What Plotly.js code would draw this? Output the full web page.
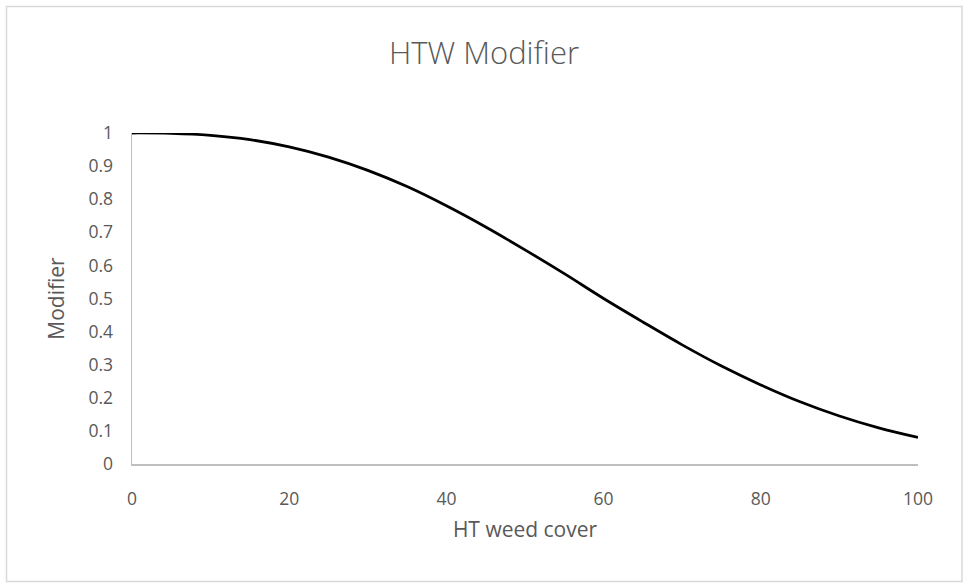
<!DOCTYPE html>
<html>
<head>
<meta charset="utf-8">
<script src="https://cdn.plot.ly/plotly-3.0.1.min.js"></script>
<style>
  html, body { margin: 0; padding: 0; background: #ffffff; }
  #chart { width: 968px; height: 583px; }
</style>
</head>
<body>
<div id="chart"></div>
<script>
// HT weed cover (x) and modifier (y)
const weedCover = [0, 5, 10, 15, 20, 25, 30, 35, 40, 45, 50, 55, 60, 65, 70, 75, 80, 85, 90, 95, 100];
const modifier  = [1.0, 0.999, 0.993, 0.980, 0.958, 0.927, 0.887, 0.838, 0.780, 0.716, 0.647, 0.575, 0.500, 0.429, 0.360, 0.296, 0.239, 0.188, 0.145, 0.109, 0.080];

const chartTitle = 'HTW Modifier';
const xTitle = 'HT weed cover';
const yTitle = 'Modifier';
const xTicks = [0, 20, 40, 60, 80, 100];
const yTicks = [0, 0.1, 0.2, 0.3, 0.4, 0.5, 0.6, 0.7, 0.8, 0.9, 1];

const textColor = '#595959';
const fontFam = '"Open Sans", "Liberation Sans", sans-serif';

const trace = {
  x: weedCover,
  y: modifier,
  type: 'scatter',
  mode: 'lines',
  line: { color: '#000000', width: 2.75, shape: 'spline', smoothing: 1 },
  hoverinfo: 'x+y',
  showlegend: false
};

// plot area in pixels: left 132, right 918, top 133, bottom 464
const L = 132, R = 50, T = 133, B = 119;
const W = 968, H = 583;
const pw = W - L - R, ph = H - T - B;
function px(xp) { return (xp - L) / pw; }
function py(yp) { return (H - B - yp) / ph; }

const layout = {
  width: W,
  height: H,
  margin: { l: L, r: R, t: T, b: B, pad: 0 },
  paper_bgcolor: '#ffffff',
  plot_bgcolor: '#ffffff',
  font: { family: fontFam, color: textColor, size: 17 },
  title: {
    text: chartTitle,
    font: { family: fontFam, size: 31, color: textColor, weight: 300 },
    x: 0.5, xanchor: 'center',
    y: 1 - 53 / H, yanchor: 'middle', yref: 'container'
  },
  xaxis: {
    range: [0, 100],
    tickvals: xTicks,
    ticktext: xTicks.map(String),
    showgrid: false,
    zeroline: false,
    showline: true,
    linecolor: '#bfbfbf',
    linewidth: 1.5,
    ticks: '',
    ticklabelstandoff: 18,
    tickfont: { family: fontFam, size: 17.5, color: textColor },
    title: { text: xTitle, font: { family: fontFam, size: 21, color: textColor }, standoff: 14 }
  },
  yaxis: {
    range: [0, 1],
    tickvals: yTicks,
    ticktext: yTicks.map(String),
    showgrid: false,
    zeroline: false,
    showline: true,
    linecolor: '#bfbfbf',
    linewidth: 1.5,
    ticks: '',
    ticklabelstandoff: 14,
    tickfont: { family: fontFam, size: 17.5, color: textColor },
    title: { text: yTitle, font: { family: fontFam, size: 21, color: textColor }, standoff: 18 }
  },
  shapes: [{
    type: 'rect', xref: 'paper', yref: 'paper',
    x0: px(6.5), x1: px(962), y0: py(581.5), y1: py(6.5),
    line: { color: '#d9d9d9', width: 1.5 },
    fillcolor: 'rgba(0,0,0,0)',
    layer: 'below'
  }]
};

Plotly.newPlot('chart', [trace], layout, { displayModeBar: false, staticPlot: true });
</script>
</body>
</html>
